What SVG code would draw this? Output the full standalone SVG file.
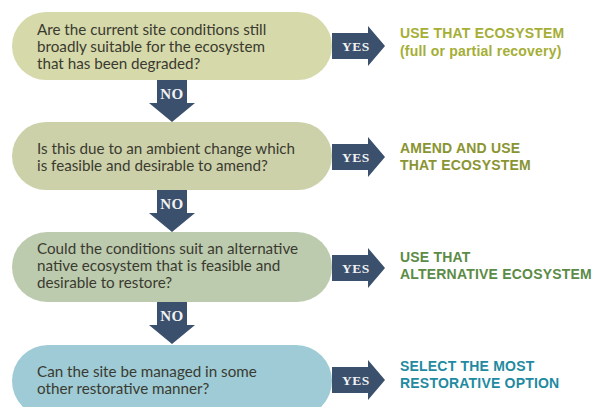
<svg xmlns="http://www.w3.org/2000/svg" width="607" height="407" viewBox="0 0 607 407">
<style>
.q{font-family:"Lato","Liberation Sans",sans-serif;font-size:15.2px;fill:#3a3a30}
.r{font-family:"Liberation Sans",Arial,sans-serif;font-size:14px;font-weight:bold;letter-spacing:0.2px}
.arr{fill:#3b506d}
.lbl{font-family:"Liberation Serif","Times New Roman",serif;font-weight:bold;font-size:13.5px;fill:#f2f2f2;text-anchor:middle;letter-spacing:0.5px}
.nl{font-size:15px}
</style>
<defs>
<path id="yes" d="M0,-13 H36 V-20 L53,0 L36,20 V13 H0 Z"/>
<path id="no" d="M-15,0 H15 V23 H23 L0,42 L-23,23 H-15 Z"/>
</defs>
<rect width="607" height="407" fill="#ffffff"/>
<g id="connectors">
<use href="#yes" class="arr" x="332" y="46"/>
<text class="lbl" x="356" y="51">YES</text>
<use href="#yes" class="arr" x="332" y="157"/>
<text class="lbl" x="356" y="162">YES</text>
<use href="#yes" class="arr" x="332" y="268"/>
<text class="lbl" x="356" y="273">YES</text>
<use href="#yes" class="arr" x="332" y="380"/>
<text class="lbl" x="356" y="385">YES</text>
<use href="#no" class="arr" x="172" y="80"/>
<text class="lbl nl" x="172" y="99">NO</text>
<use href="#no" class="arr" x="172" y="190"/>
<text class="lbl nl" x="172" y="209">NO</text>
<use href="#no" class="arr" x="172" y="302"/>
<text class="lbl nl" x="172" y="321">NO</text>
</g>
<g id="q1">
<rect x="12" y="12" width="320" height="68" rx="34" fill="#d6d9aa"/>
<text class="q" x="37" y="35">Are the current site conditions still</text>
<text class="q" x="37" y="52">broadly suitable for the ecosystem</text>
<text class="q" x="37" y="69">that has been degraded?</text>
</g>
<g id="a1">
<text class="r" x="400" y="38" fill="#a5ae35">USE THAT ECOSYSTEM</text>
<text class="r" x="400" y="56" fill="#a5ae35">(full or partial recovery)</text>
</g>
<g id="q2">
<rect x="12" y="122" width="320" height="68" rx="34" fill="#cdd1aa"/>
<text class="q" x="37" y="154">Is this due to an ambient change which</text>
<text class="q" x="37" y="171">is feasible and desirable to amend?</text>
</g>
<g id="a2">
<text class="r" x="400" y="153" fill="#8a9431">AMEND AND USE</text>
<text class="r" x="400" y="170" fill="#8a9431">THAT ECOSYSTEM</text>
</g>
<g id="q3">
<rect x="12" y="232" width="320" height="70" rx="35" fill="#bccaae"/>
<text class="q" x="37" y="254">Could the conditions suit an alternative</text>
<text class="q" x="37" y="271">native ecosystem that is feasible and</text>
<text class="q" x="37" y="288">desirable to restore?</text>
</g>
<g id="a3">
<text class="r" x="400" y="262" fill="#5b8b46">USE THAT</text>
<text class="r" x="400" y="279" fill="#5b8b46">ALTERNATIVE ECOSYSTEM</text>
</g>
<g id="q4">
<rect x="12" y="345" width="320" height="72" rx="36" fill="#9ecbd6"/>
<text class="q" x="37" y="377">Can the site be managed in some</text>
<text class="q" x="37" y="394">other restorative manner?</text>
</g>
<g id="a4">
<text class="r" x="400" y="371" fill="#1f8aa1">SELECT THE MOST</text>
<text class="r" x="400" y="388" fill="#1f8aa1">RESTORATIVE OPTION</text>
</g>
</svg>
